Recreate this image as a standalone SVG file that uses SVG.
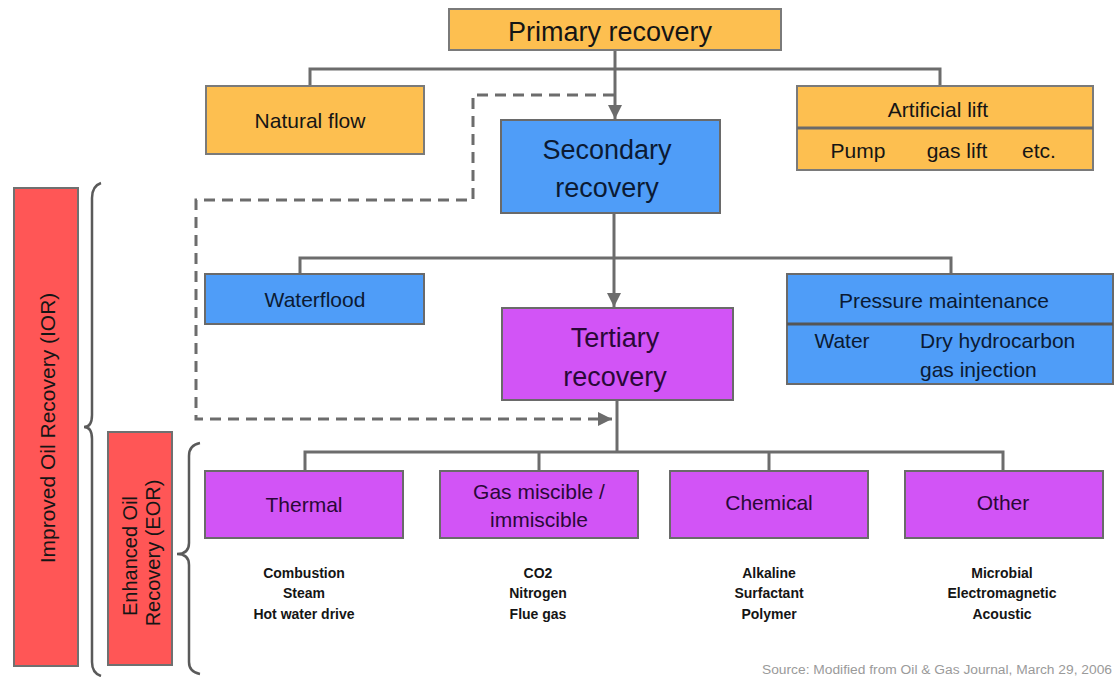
<svg xmlns="http://www.w3.org/2000/svg" width="1117" height="677" viewBox="0 0 1117 677">
<defs>
<style>
text{font-family:"Liberation Sans",Arial,sans-serif;fill:#151515;text-anchor:middle}
.or{fill:#FDBF50;stroke:#7a7a7a;stroke-width:2}
.bl{fill:#4F9DF8;stroke:#6a6a6a;stroke-width:2}
.pu{fill:#D254F6;stroke:#6a6a6a;stroke-width:2}
.rd{fill:#FF5656;stroke:#707070;stroke-width:2}
.ln{fill:none;stroke:#6c6c6c;stroke-width:3}
.ds{fill:none;stroke:#6c6c6c;stroke-width:3;stroke-dasharray:11 7}
.br{fill:none;stroke:#5a5a5a;stroke-width:2.5}
.big{font-size:27px}
.mid{font-size:21px}
.sub{font-size:14px;font-weight:bold}
.pt{fill:#2a0838}
.bt{fill:#0b1a33}
</style>
<marker id="ah" viewBox="0 0 10 10" refX="10" refY="5" markerWidth="14" markerHeight="14" markerUnits="userSpaceOnUse" orient="auto">
<path d="M0,0 L10,5 L0,10 z" fill="#6c6c6c"/>
</marker>
</defs>
<rect width="1117" height="677" fill="#ffffff"/>

<g id="connectors">
<path class="ln" d="M310,86 V69 H940 V86"/>
<path class="ln" d="M615,50 V119" marker-end="url(#ah)"/>
<path class="ln" d="M300,274 V258 H951 V274"/>
<path class="ln" d="M614,213 V307" marker-end="url(#ah)"/>
<path class="ln" d="M617,400 V452"/>
<path class="ln" d="M305,471 V452 H1003 V471"/>
<path class="ln" d="M539,452 V471"/>
<path class="ln" d="M769,452 V471"/>
<path class="ds" d="M614,95 H473 V200 H196 V419 H612" marker-end="url(#ah)"/>
</g>

<g id="primary">
<rect class="or" x="449" y="9" width="332" height="41"/>
<text class="big" x="610" y="41">Primary recovery</text>
</g>
<g id="natural-flow">
<rect class="or" x="206" y="86" width="218" height="68"/>
<text class="mid" x="310" y="128">Natural flow</text>
</g>
<g id="artificial-lift">
<rect class="or" x="797" y="86" width="296" height="84"/>
<line x1="797" y1="128" x2="1093" y2="128" stroke="#6a6a6a" stroke-width="3"/>
<text class="mid" x="938" y="117">Artificial lift</text>
<text class="mid" x="858" y="158">Pump</text>
<text class="mid" x="957" y="158">gas lift</text>
<text class="mid" x="1039" y="158">etc.</text>
</g>
<g id="secondary">
<rect class="bl" x="501" y="120" width="219" height="93"/>
<text class="big bt" x="607" y="159">Secondary</text>
<text class="big bt" x="607" y="197">recovery</text>
</g>
<g id="waterflood">
<rect class="bl" x="205" y="274" width="219" height="50"/>
<text class="mid bt" x="315" y="307">Waterflood</text>
</g>
<g id="pressure-maintenance">
<rect class="bl" x="787" y="274" width="326" height="110"/>
<line x1="787" y1="324" x2="1113" y2="324" stroke="#555" stroke-width="3"/>
<text class="mid bt" x="944" y="308">Pressure maintenance</text>
<text class="mid bt" x="842" y="348">Water</text>
<text class="mid bt" x="920" y="348" style="text-anchor:start">Dry hydrocarbon</text>
<text class="mid bt" x="920" y="377" style="text-anchor:start">gas injection</text>
</g>
<g id="tertiary">
<rect class="pu" x="502" y="308" width="231" height="92"/>
<text class="big pt" x="615" y="347">Tertiary</text>
<text class="big pt" x="615" y="386">recovery</text>
</g>
<g id="thermal">
<rect class="pu" x="205" y="471" width="198" height="67"/>
<text class="mid pt" x="304" y="512">Thermal</text>
<text class="sub" x="304" y="578">Combustion</text>
<text class="sub" x="304" y="598">Steam</text>
<text class="sub" x="304" y="619">Hot water drive</text>
</g>
<g id="gas">
<rect class="pu" x="440" y="471" width="198" height="67"/>
<text class="mid pt" x="539" y="499">Gas miscible /</text>
<text class="mid pt" x="539" y="527">immiscible</text>
<text class="sub" x="538" y="578">CO2</text>
<text class="sub" x="538" y="598">Nitrogen</text>
<text class="sub" x="538" y="619">Flue gas</text>
</g>
<g id="chemical">
<rect class="pu" x="670" y="471" width="198" height="67"/>
<text class="mid pt" x="769" y="510">Chemical</text>
<text class="sub" x="769" y="578">Alkaline</text>
<text class="sub" x="769" y="598">Surfactant</text>
<text class="sub" x="769" y="619">Polymer</text>
</g>
<g id="other">
<rect class="pu" x="905" y="471" width="198" height="67"/>
<text class="mid pt" x="1003" y="510">Other</text>
<text class="sub" x="1002" y="578">Microbial</text>
<text class="sub" x="1002" y="598">Electromagnetic</text>
<text class="sub" x="1002" y="619">Acoustic</text>
</g>

<g id="ior">
<rect class="rd" x="14" y="188" width="64" height="478"/>
<text class="mid" transform="translate(55,428) rotate(-90)">Improved Oil Recovery (IOR)</text>
<path class="br" d="M101,183 Q92,186 92,198 L92,415 Q92,427 84,427 Q92,427 92,439 L92,662 Q92,673 101,676"/>
</g>
<g id="eor">
<rect class="rd" x="108" y="432" width="64" height="233"/>
<text style="font-size:20px" transform="translate(137,556) rotate(-90)">Enhanced Oil</text>
<text style="font-size:20px" transform="translate(160,553) rotate(-90)">Recovery (EOR)</text>
<path class="br" d="M200,443 Q189,445 189,456 L189,543 Q189,554 177,554 Q189,554 189,565 L189,662 Q189,672 200,674"/>
</g>

<text x="762" y="674" textLength="350" lengthAdjust="spacingAndGlyphs" style="font-size:12px;fill:#9a9a9a;text-anchor:start">Source: Modified from Oil &amp; Gas Journal, March 29, 2006</text>
</svg>
